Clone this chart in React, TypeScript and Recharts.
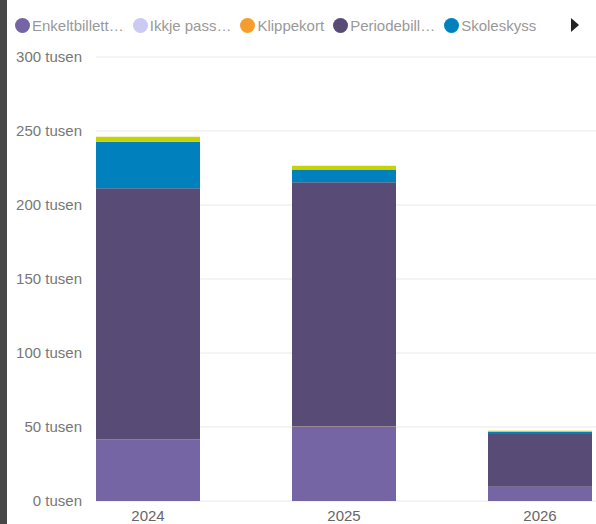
import { Bar, BarChart, CartesianGrid, XAxis, YAxis } from "recharts";

const years = ["2024", "2025", "2026"];

// verdier i tusen reiser
const enkeltbillett = [41.7, 50.2, 9.7];
const ikkjePassasjer = [0, 0, 0];
const klippekort = [0, 0.2, 0];
const periodebillett = [169.6, 164.9, 35.6];
const skoleskyss = [31.5, 8.3, 1.5];
const andre = [3.3, 2.9, 0.7];

const yTicks = [0, 50000, 100000, 150000, 200000, 250000, 300000];

const series = [
  { key: "enkelt", label: "Enkeltbillett…", color: "#7665A4", values: enkeltbillett },
  { key: "ikkje", label: "Ikkje pass…", color: "#CCC9F2", values: ikkjePassasjer },
  { key: "klippe", label: "Klippekort", color: "#F59E2D", values: klippekort },
  { key: "periode", label: "Periodebill…", color: "#584C77", values: periodebillett },
  { key: "skole", label: "Skoleskyss", color: "#0080BC", values: skoleskyss },
  { key: "andre", label: "Andre", color: "#C6D300", values: andre },
];

const data = years.map((year, i) => {
  const row: Record<string, string | number> = { year };
  for (const s of series) row[s.key] = s.values[i] * 1000;
  return row;
});

const FONT = "'Liberation Sans', Arial, sans-serif";

function YTick(props: any) {
  const { y, payload } = props;
  return (
    <text
      x={82}
      y={y}
      dy={5}
      textAnchor="end"
      fill="#777"
      fontSize={15}
      fontFamily={FONT}
    >
      {`${payload.value / 1000} tusen`}
    </text>
  );
}

function XTick(props: any) {
  const { x, payload } = props;
  return (
    <text
      x={x}
      y={521}
      textAnchor="middle"
      fill="#666"
      fontSize={15}
      fontFamily={FONT}
    >
      {payload.value}
    </text>
  );
}

function Legend() {
  return (
    <div
      style={{
        position: "absolute",
        left: 15,
        top: 17,
        display: "flex",
        alignItems: "center",
        fontFamily: FONT,
        fontSize: 15,
        color: "#999",
        whiteSpace: "nowrap",
      }}
    >
      {series.slice(0, 5).map((s) => (
        <div
          key={s.key}
          style={{ display: "flex", alignItems: "center", marginRight: 9 }}
        >
          <span
            style={{
              width: 15,
              height: 15,
              borderRadius: "50%",
              background: s.color,
              display: "inline-block",
              marginRight: 2,
            }}
          />
          <span>{s.label}</span>
        </div>
      ))}
    </div>
  );
}

export default function App() {
  return (
    <div
      style={{
        position: "absolute",
        left: 0,
        top: 0,
        width: 596,
        height: 524,
        overflow: "hidden",
        background: "#fff",
      }}
    >
      <div
        style={{
          position: "absolute",
          left: 0,
          top: 0,
          width: 7,
          height: 524,
          background: "#474747",
        }}
      />
      <Legend />
      <svg
        width={10}
        height={16}
        style={{ position: "absolute", left: 570, top: 17 }}
      >
        <polygon points="1,1 9,8 1,15" fill="#222" />
      </svg>
      <div style={{ position: "absolute", left: 0, top: 0 }}>
        <BarChart
          width={640}
          height={524}
          data={data}
          margin={{ top: 57, right: 2, left: 0, bottom: 0 }}
        >
          <CartesianGrid
            vertical={false}
            stroke="#E8E8E8"
            x={96}
            width={500}
          />
          <XAxis
            dataKey="year"
            axisLine={false}
            tickLine={false}
            height={23}
            tick={<XTick />}
            interval={0}
          />
          <YAxis
            width={50}
            domain={[0, 300000]}
            ticks={yTicks}
            axisLine={false}
            tickLine={false}
            tick={<YTick />}
            interval={0}
          />
          {series.map((s) => (
            <Bar
              key={s.key}
              dataKey={s.key}
              stackId="a"
              fill={s.color}
              barSize={104}
              isAnimationActive={false}
            />
          ))}
        </BarChart>
      </div>
    </div>
  );
}
